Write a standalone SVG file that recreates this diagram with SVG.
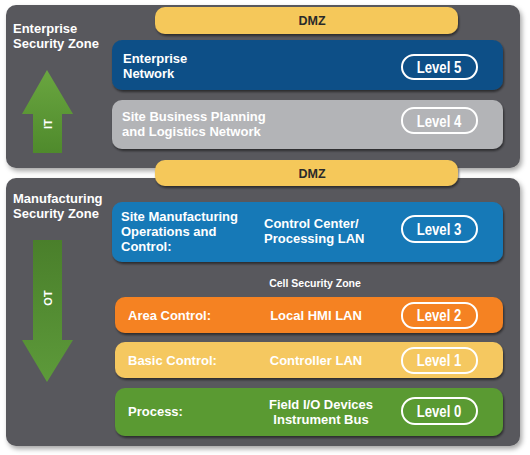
<svg xmlns="http://www.w3.org/2000/svg" width="530" height="455" viewBox="0 0 530 455">
<defs>
<filter id="sh" x="-5%" y="-5%" width="115%" height="120%"><feDropShadow dx="2" dy="3" stdDeviation="2.5" flood-color="#000" flood-opacity="0.35"/></filter>
<filter id="bs" x="-5%" y="-10%" width="110%" height="140%"><feDropShadow dx="1" dy="2" stdDeviation="1" flood-color="#000" flood-opacity="0.5"/></filter>
<linearGradient id="ag" x1="0" y1="0" x2="0" y2="1"><stop offset="0" stop-color="#6aa640"/><stop offset="1" stop-color="#4f8a2c"/></linearGradient>
<linearGradient id="ag2" x1="0" y1="0" x2="0" y2="1"><stop offset="0" stop-color="#4a7f2b"/><stop offset="1" stop-color="#5d9a3a"/></linearGradient>
</defs>
<style>
.panel{fill:#59595d;}
.t{font-family:"Liberation Sans",Arial,sans-serif;font-weight:bold;fill:#fff;}
.lbl{font-size:13px;}
.zone{font-size:13px;}
.pill{fill:none;stroke:#fff;stroke-width:2;}
.pt{font-size:16px;text-anchor:middle;}
.dmz{fill:#f5c85a;}
.dt{font-family:"Liberation Sans",Arial,sans-serif;font-weight:bold;fill:#2a2a2a;font-size:12.5px;text-anchor:middle;}
</style>
<rect width="530" height="455" fill="#ffffff"/>
<g id="enterprise-zone">
<rect class="panel" x="6" y="5" width="514" height="163" rx="10" filter="url(#sh)"/>
<text class="t zone" x="13" y="33">Enterprise</text>
<text class="t zone" x="13" y="48">Security Zone</text>
</g>
<g id="manufacturing-zone">
<rect class="panel" x="6" y="178" width="514" height="268" rx="10" filter="url(#sh)"/>
<text class="t zone" x="13" y="203">Manufacturing</text>
<text class="t zone" x="13" y="218">Security Zone</text>
<text class="t" x="315" y="287" font-size="10.5" text-anchor="middle">Cell Security Zone</text>
</g>
<g id="dmz-top">
<rect class="dmz" x="155" y="7" width="303" height="27" rx="10" filter="url(#bs)"/>
<text class="dt" x="312" y="25">DMZ</text>
</g>
<g id="dmz-mid">
<rect class="dmz" x="155" y="160" width="303" height="26" rx="10" filter="url(#bs)"/>
<text class="dt" x="312" y="178">DMZ</text>
</g>
<g id="level5">
<rect x="112" y="40" width="391" height="50" rx="10" fill="#0b4f87" filter="url(#bs)"/>
<text class="t lbl" x="123" y="63">Enterprise</text>
<text class="t lbl" x="123" y="78">Network</text>
<rect class="pill" x="402" y="55" width="75" height="24" rx="12"/>
<text class="t pt" transform="translate(439,73) scale(0.82,1)">Level 5</text>
</g>
<g id="level4">
<rect x="112" y="100" width="391" height="49" rx="10" fill="#b3b4b7" filter="url(#bs)"/>
<text class="t lbl" x="122" y="121">Site Business Planning</text>
<text class="t lbl" x="122" y="136">and Logistics Network</text>
<rect class="pill" x="402" y="108" width="75" height="25" rx="12"/>
<text class="t pt" transform="translate(439,127) scale(0.82,1)">Level 4</text>
</g>
<g id="level3">
<rect x="112" y="202" width="391" height="60" rx="10" fill="#1879b7" filter="url(#bs)"/>
<text class="t lbl" x="121" y="221">Site Manufacturing</text>
<text class="t lbl" x="121" y="236">Operations and</text>
<text class="t lbl" x="121" y="251">Control:</text>
<text class="t lbl" x="264" y="228">Control Center/</text>
<text class="t lbl" x="264" y="243">Processing LAN</text>
<rect class="pill" x="402" y="216" width="75" height="26" rx="13"/>
<text class="t pt" transform="translate(439,235) scale(0.82,1)">Level 3</text>
</g>
<g id="level2">
<rect x="115" y="297" width="388" height="36" rx="10" fill="#f58220" filter="url(#bs)"/>
<text class="t lbl" x="128" y="320">Area Control:</text>
<text class="t lbl" x="316" y="320" text-anchor="middle">Local HMI LAN</text>
<rect class="pill" x="402" y="303" width="75" height="25" rx="12"/>
<text class="t pt" transform="translate(439,321) scale(0.82,1)">Level 2</text>
</g>
<g id="level1">
<rect x="115" y="342" width="388" height="36" rx="10" fill="#f5c861" filter="url(#bs)"/>
<text class="t lbl" x="128" y="365">Basic Control:</text>
<text class="t lbl" x="316" y="365" text-anchor="middle">Controller LAN</text>
<rect class="pill" x="402" y="348" width="75" height="25" rx="12"/>
<text class="t pt" transform="translate(439,366) scale(0.82,1)">Level 1</text>
</g>
<g id="level0">
<rect x="115" y="388" width="388" height="48" rx="10" fill="#5a9a33" filter="url(#bs)"/>
<text class="t lbl" x="128" y="416">Process:</text>
<text class="t lbl" x="321" y="409" text-anchor="middle">Field I/O Devices</text>
<text class="t lbl" x="321" y="424" text-anchor="middle">Instrument Bus</text>
<rect class="pill" x="402" y="398" width="75" height="26" rx="13"/>
<text class="t pt" transform="translate(439,417) scale(0.82,1)">Level 0</text>
</g>
<g id="connectors">
<g id="it-arrow">
<polygon points="47,70 73,114 62,114 62,153 33,153 33,114 22,114" fill="url(#ag)"/>
<text class="t" font-size="11" text-anchor="middle" transform="translate(52,124) rotate(-90)">IT</text>
</g>
<g id="ot-arrow">
<polygon points="33,240 62,240 62,340 73,340 47,382 22,340 33,340" fill="url(#ag2)"/>
<text class="t" font-size="11" text-anchor="middle" transform="translate(52,298) rotate(-90)">OT</text>
</g>
</g>
</svg>
